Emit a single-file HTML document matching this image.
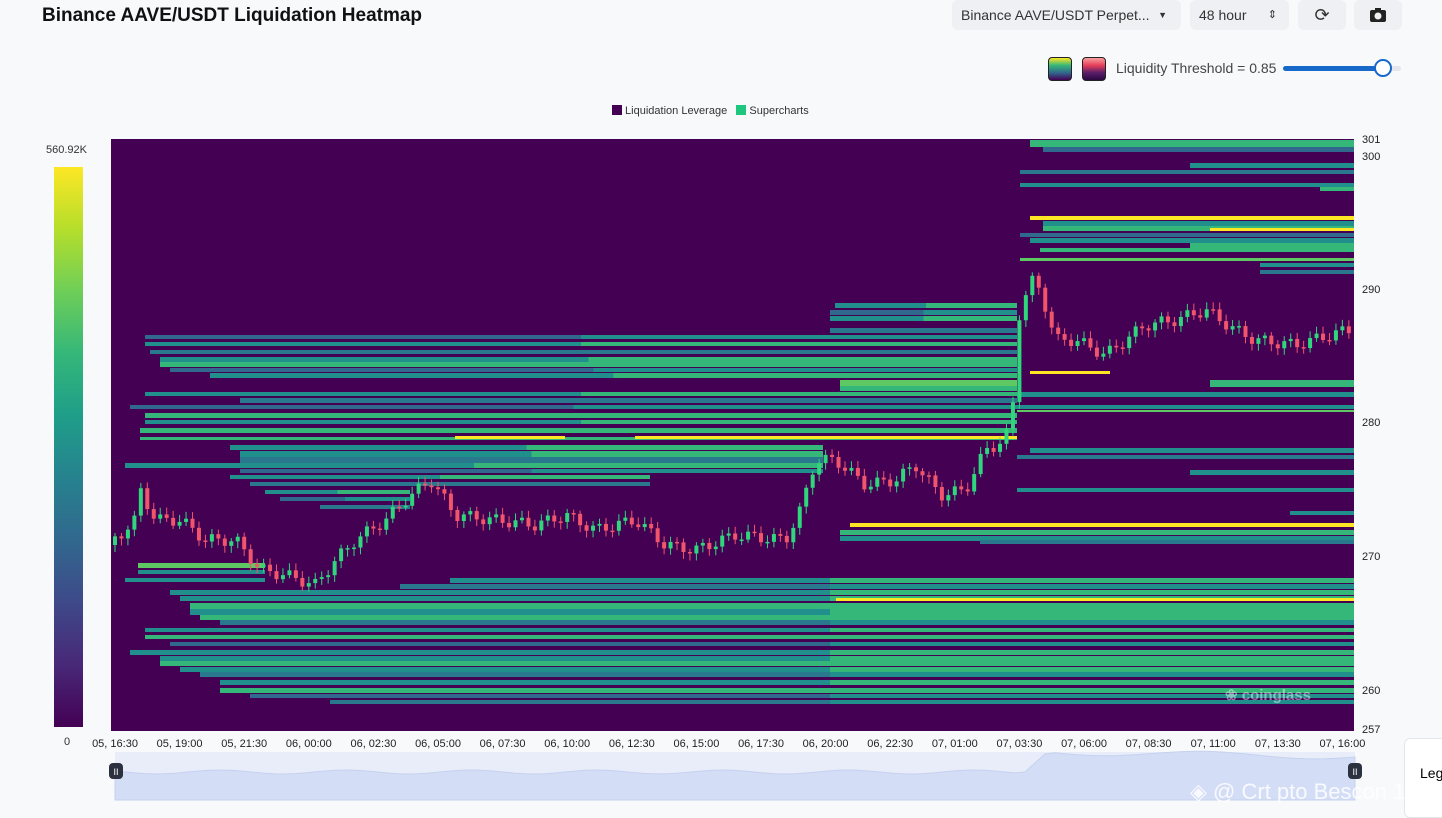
<!DOCTYPE html><html><head><meta charset="utf-8"><style>
body{margin:0;width:1442px;height:818px;background:#f8f9fb;font-family:"Liberation Sans",sans-serif;overflow:hidden;position:relative}
.t{position:absolute;left:42px;top:5px;font-size:19px;font-weight:bold;color:#111}
.btn{position:absolute;top:0;height:30px;background:#eef0f4;border-radius:6px;font-size:14px;color:#333;line-height:30px;box-sizing:border-box;padding-left:9px}
.ax{font-size:11px;fill:#222}
</style></head><body>
<div class="t">Binance AAVE/USDT Liquidation Heatmap</div>
<div class="btn" style="left:952px;width:229px">Binance AAVE/USDT Perpet... <span style="position:absolute;right:14px;font-size:9px">▼</span></div>
<div class="btn" style="left:1190px;width:99px">48 hour <span style="position:absolute;right:12px;font-size:11px">⇕</span></div>
<div class="btn" style="left:1298px;width:48px;text-align:center;padding:0;font-size:18px">⟳</div>
<div class="btn" style="left:1354px;width:48px;text-align:center;padding:0"><svg width="18" height="16" style="margin-top:7px"><rect x="1" y="3" width="16" height="12" rx="2" fill="#222"/><rect x="6" y="1" width="6" height="3" fill="#222"/><circle cx="9" cy="9" r="3.5" fill="#eef0f4"/></svg></div>
<div style="position:absolute;left:1048px;top:57px;width:22px;height:22px;border:1px solid #222;border-radius:4px;background:linear-gradient(#fde725,#35b779,#31688e,#440154)"></div>
<div style="position:absolute;left:1082px;top:57px;width:22px;height:22px;border:1px solid #222;border-radius:4px;background:linear-gradient(#f8a0a0,#e8405a,#5a1e6a,#2a0840)"></div>
<div style="position:absolute;left:1116px;top:60px;font-size:14px;color:#444">Liquidity Threshold = 0.85</div>
<div style="position:absolute;left:1283px;top:66px;width:118px;height:5px;border-radius:3px;background:#e3e6ec"></div>
<div style="position:absolute;left:1283px;top:66px;width:100px;height:5px;border-radius:3px;background:#1669c9"></div>
<div style="position:absolute;left:1374px;top:59px;width:14px;height:14px;border:2px solid #1669c9;border-radius:50%;background:#fff"></div>
<div style="position:absolute;left:612px;top:105px;font-size:11px;color:#333;white-space:nowrap"><span style="display:inline-block;width:10px;height:10px;background:#440154;vertical-align:-1px"></span> Liquidation Leverage &nbsp; <span style="display:inline-block;width:10px;height:10px;background:#1fc77e;vertical-align:-1px"></span> Supercharts</div>
<div style="position:absolute;left:46px;top:144px;font-size:11px;color:#333">560.92K</div>
<div style="position:absolute;left:54px;top:167px;width:29px;height:560px;background:linear-gradient(#fde725,#b5de2b,#6ece58,#35b779,#1f9e89,#26828e,#31688e,#3e4989,#482878,#440154)"></div>
<div style="position:absolute;left:64px;top:736px;font-size:11px;color:#333">0</div>
<div style="position:absolute;left:1404px;top:738px;width:50px;height:80px;background:#fff;border:1px solid #e4e6ea;border-radius:6px;font-size:14px;padding:26px 0 0 15px;box-sizing:border-box">Leg</div>
<svg id="s" width="1442" height="818" style="position:absolute;left:0;top:0"></svg>
<div style="position:absolute;left:1190px;top:779px;font-size:22px;color:rgba(255,255,255,.85);white-space:nowrap">◈ @ Crt pto Bescon 1</div>
<script>
var s=document.getElementById('s'),h='';
function r(x,y,w,hh,c){h+='<rect x="'+x+'" y="'+y+'" width="'+w+'" height="'+hh+'" fill="'+c+'"/>';}
r(111,139,1243,592,'#440154');
var T='#21908d',G='#35b779',B='#31688e',L='#5ec962',Y='#fde725',D='#2a788e';
var bars=[[140,1030,G,7],[147,1043,B,5],[163,1190,T,5],[170,1020,D,4],[183,1020,T,4],[187,1320,G,4],[216,1030,Y,4],[221,1043,T,5],[226,1043,G,5],[228,1210,Y,3],[233,1020,B,4],[238,1030,T,5],[243,1190,G,5],[248,1040,G,4],[258,1020,L,3],[263,1260,T,4],[270,1260,D,4],[380,1210,G,7],[392,1017,T,5],[405,1017,T,4],[410,1017,L,2],[448,1030,T,5],[455,1017,D,4],[470,1190,T,5],[488,1017,T,4],[511,1290,T,4],[523,850,Y,4],[530,840,G,5],[536,840,T,5],[540,980,D,4]];
var midbars=[[303,835,T,5],[310,830,B,5],[316,830,T,5],[328,830,D,5],[335,145,B,4],[342,145,T,4],[350,150,D,4],[357,160,T,5],[362,160,G,5],[368,170,B,4],[373,210,T,5],[380,840,L,6],[386,840,G,5],[392,145,T,4],[398,240,D,5],[405,130,B,4],[413,145,G,5],[420,145,T,4],[428,140,G,5],[437,140,G,3],[445,230,T,5],[451,240,T,6],[457,240,D,6],[463,125,T,5],[469,240,B,4],[475,230,T,4],[482,250,D,4],[490,265,T,4],[497,280,B,4],[505,320,D,4]];
midbars.forEach(function(b){var e=b[0]<440?1017:823;if(b[0]>=475)e=b[0]<485?650:410;r(b[1],b[0],e-b[1],b[3],b[2]);r((b[1]+e)/2,b[0],e-(b[1]+e)/2,b[3],b[2]==B?T:(b[2]==T?G:b[2]));});
r(455,436,110,3,Y);r(635,436,188,3,Y);r(823,436,194,3,Y);r(1030,371,80,3,Y);
bars.forEach(function(b){r(b[1],b[0],1354-b[1],b[3],b[2]);});
var low=[[563,138,265,L,5],[570,138,265,T,4],[578,125,265,T,4],[578,450,1354,T,5],[584,400,1354,D,5],[590,170,1354,T,5],[596,180,1354,T,5],[603,190,1354,G,6],[609,190,1354,T,6],[615,200,1354,G,5],[620,220,1354,D,5],[628,145,1354,T,4],[635,145,1354,G,4],[642,170,1354,B,4],[650,130,1354,T,5],[656,160,1354,T,5],[661,160,1354,G,5],[667,180,1354,T,5],[672,200,1354,D,5],[680,220,1354,T,5],[688,220,1354,G,5],[694,250,1354,B,4],[700,330,1354,D,4]];
low.forEach(function(b){r(b[1],b[0],b[2]-b[1],b[4],b[3]);var m=Math.max(b[1],830);if(b[2]>900)r(m,b[0],b[2]-m,b[4],b[3]==B?T:(b[3]==D?T:G));});
r(836,598,518,3,Y);
var P=[[113,545],[140,520],[145,490],[160,520],[185,520],[210,540],[240,540],[265,570],[290,575],[320,585],[340,560],[360,540],[390,520],[410,500],[435,480],[460,515],[500,520],[540,525],[570,515],[600,530],[640,520],[670,545],[700,550],[740,535],[790,540],[805,510],[820,460],[840,460],[870,485],[900,480],[920,465],[945,495],[970,490],[990,450],[1010,440],[1018,400],[1022,320],[1035,280],[1045,290],[1060,340],[1080,340],[1110,355],[1130,340],[1150,325],[1180,320],[1210,310],[1240,330],[1260,340],[1300,345],[1352,330]];
function py(x){for(var i=1;i<P.length;i++)if(x<=P[i][0]){var a=P[i-1],b=P[i];return a[1]+(b[1]-a[1])*(x-a[0])/(b[0]-a[0]);}return 330;}
var prev=py(113);
for(var x=113;x<1353;x+=6.46){var c=py(x+6.46)+Math.sin(x*1.7)*6;var o=prev;var up=c<o;var col=up?'#2fd67c':'#f0556b';var t=Math.min(o,c),bt=Math.max(o,c);if(bt-t<1.5)bt=t+1.5;
h+='<line x1="'+(x+2)+'" x2="'+(x+2)+'" y1="'+(t-3-Math.abs(Math.sin(x))*4)+'" y2="'+(bt+3+Math.abs(Math.cos(x))*4)+'" stroke="'+col+'"/>';r(x,t,4,bt-t,col);prev=c;}
var yl=[[301,139],[300,156],[290,289],[280,422],[270,556],[260,690],[257,729]];
yl.forEach(function(a){h+='<text class="ax" x="1362" y="'+(a[1]+4)+'">'+a[0]+'</text>';});
var xl=['05, 16:30','05, 19:00','05, 21:30','06, 00:00','06, 02:30','06, 05:00','06, 07:30','06, 10:00','06, 12:30','06, 15:00','06, 17:30','06, 20:00','06, 22:30','07, 01:00','07, 03:30','07, 06:00','07, 08:30','07, 11:00','07, 13:30','07, 16:00'];
xl.forEach(function(t,i){h+='<text class="ax" text-anchor="middle" x="'+(115+i*64.6)+'" y="747">'+t+'</text>';});
h+='<text x="1225" y="700" font-size="15" font-weight="bold" fill="rgba(255,255,255,.45)">❀ coinglass</text>';
r(115,752,1240,48,'#e8edf9');
var d='M115,800 L115,772 ';for(var x=115;x<=1355;x+=10){var v=x<1025?772+Math.sin(x*.05)*2:(x<1050?772-(x-1025)*.9:752+Math.sin(x*.03)*3+(x-1050)*0.015);d+='L'+x+','+v.toFixed(1)+' ';}
d+='L1355,800Z';h+='<path d="'+d+'" fill="#d3ddf6" stroke="#c5d1ef"/>';
[116,1355].forEach(function(x){h+='<rect x="'+(x-7)+'" y="763" width="14" height="16" rx="4" fill="#2c3140"/><text x="'+x+'" y="775" font-size="9" fill="#fff" text-anchor="middle">II</text>';});
s.innerHTML=h;
</script>
</body></html>
